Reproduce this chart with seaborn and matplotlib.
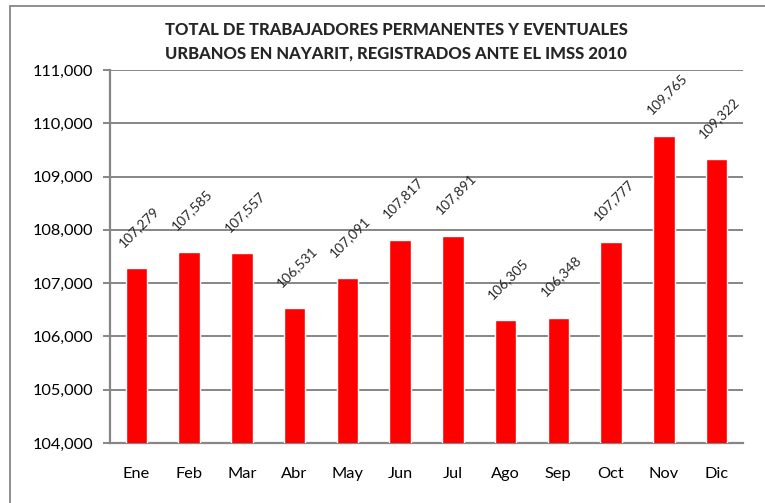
import matplotlib
matplotlib.use("Agg")
import matplotlib.pyplot as plt
import matplotlib.patches as patches
from matplotlib.ticker import FuncFormatter, MultipleLocator, FixedLocator
import seaborn as sns
import pandas as pd
import numpy as np

# data
meses = ["Ene", "Feb", "Mar", "Abr", "May", "Jun", "Jul", "Ago", "Sep", "Oct", "Nov", "Dic"]
trabajadores = [107279, 107585, 107557, 106531, 107091, 107817, 107891, 106305, 106348, 107777, 109765, 109322]

df = pd.DataFrame({"mes": meses, "total": trabajadores})

sns.set_style("white")
plt.rcParams["font.family"] = ["Lato", "DejaVu Sans"]

gris = "#868686"

fig = plt.figure(figsize=(7.65, 5.03), dpi=100)
ax = fig.add_axes([110 / 765, 1 - 443 / 503, (743 - 110) / 765, (443 - 70) / 503])

sns.barplot(data=df, x="mes", y="total", color="#ff0000", width=0.41,
            saturation=1, ax=ax, zorder=3)

ax.set_ylim(104000, 111000)
ax.set_xlim(-0.5, len(meses) - 0.5)
ax.yaxis.set_major_locator(MultipleLocator(1000))
ax.yaxis.set_major_formatter(FuncFormatter(lambda v, p: f"{int(v):,}"))
ax.grid(axis="y", color=gris, linewidth=1.4, zorder=0)
ax.set_axisbelow(True)

for s in ["top", "right"]:
    ax.spines[s].set_visible(False)
for s in ["left", "bottom"]:
    ax.spines[s].set_color(gris)
    ax.spines[s].set_linewidth(1.6)

# x ticks: marks between categories, labels under bars
ax.xaxis.set_minor_locator(FixedLocator(np.arange(-0.5, len(meses), 1.0)))
ax.tick_params(axis="x", which="major", length=0, pad=17, labelsize=11.8, colors="black")
ax.tick_params(axis="x", which="minor", length=5, width=1.4, color=gris, direction="out")
ax.tick_params(axis="y", which="major", length=5, width=1.4, color=gris, direction="out",
               pad=7, labelsize=11.8, labelcolor="black", left=True)
ax.set_xlabel("")
ax.set_ylabel("")

for i, v in enumerate(trabajadores):
    ax.annotate(f"{v:,}", xy=(i, v), xytext=(2, 14), textcoords="offset points",
                ha="center", va="bottom", rotation=45, fontsize=10)

titulo = ["TOTAL DE TRABAJADORES PERMANENTES Y EVENTUALES",
          "URBANOS EN NAYARIT, REGISTRADOS ANTE EL IMSS 2010"]
fig.text(0.518, 1 - 30 / 503, titulo[0], ha="center", va="center",
         fontsize=12, fontweight="black")
fig.text(0.518, 1 - 53 / 503, titulo[1], ha="center", va="center",
         fontsize=12, fontweight="black")

# outer chart border (cropped on right and bottom)
fig.patches.append(patches.Rectangle((10 / 765, -0.1), 1.2, 1 - 6 / 503 + 0.1,
                                     transform=fig.transFigure, fill=False,
                                     edgecolor=gris, linewidth=1.3))

fig.savefig("out.png", dpi=100)
